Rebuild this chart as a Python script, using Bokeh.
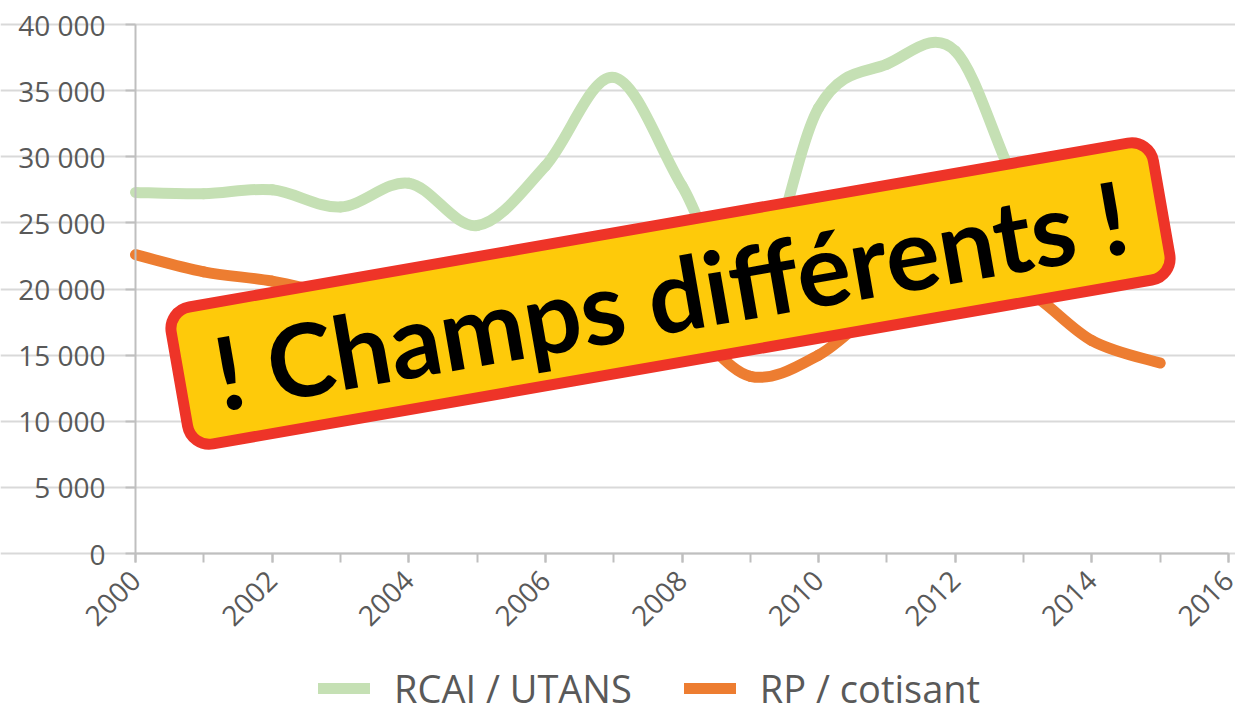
import math
from bokeh.plotting import figure
from bokeh.models import ColumnDataSource, FixedTicker, Legend, LegendItem, Range1d
from bokeh.core.properties import value
from bokeh.embed import file_html
from bokeh.resources import INLINE

# ---------------- data ----------------
years = [2000, 2001, 2002, 2003, 2004, 2005, 2006, 2007,
         2008, 2009, 2010, 2011, 2012, 2013, 2014, 2015]
rcai_utans = [27300, 27200, 27500, 26200, 28000, 24800, 29300, 36000,
              27800, 19000, 33700, 37000, 38000, 27000, 23500, 24000]
rp_cotisant = [22600, 21300, 20600, 19500, 18800, 18000, 17600, 17400,
               17300, 13400, 15000, 19000, 21000, 20000, 16100, 14400]
series_names = ["RCAI / UTANS", "RP / cotisant"]

y_ticks = [0, 5000, 10000, 15000, 20000, 25000, 30000, 35000, 40000]
y_tick_labels = ["0", "5 000", "10 000", "15 000", "20 000",
                 "25 000", "30 000", "35 000", "40 000"]
x_ticks = [2000, 2002, 2004, 2006, 2008, 2010, 2012, 2014, 2016]
x_minor_ticks = list(range(2000, 2017))

banner_text = "! Champs différents !"

# ---------------- styles ----------------
GREEN = "#C5E0B4"
ORANGE = "#ED7D31"
GRID = "#D9D9D9"
AXIS = "#BFBFBF"
LABEL = "#595959"
FONT = "Open Sans"

# ---------------- layout (pixels) ----------------
W, H = 1235, 715
LEFT, RIGHT, TOP, BOTTOM = 135, 1228, 24, 553   # plot area edges in page px
x0v, x1v = x_ticks[0], x_ticks[-1]
y0v, y1v = y_ticks[0], y_ticks[-1]
xpx = (RIGHT - LEFT) / (x1v - x0v)
ypx = (BOTTOM - TOP) / (y1v - y0v)
x_range = Range1d(x0v - LEFT / xpx, x1v + (W - RIGHT) / xpx)
y_range = Range1d(y0v - (H - BOTTOM) / ypx, y1v + TOP / ypx)


def smooth_segments(xs, ys):
    """Catmull-Rom smoothing expressed as cubic Bezier segments."""
    xp = [xs[0]] + list(xs) + [xs[-1]]
    yp = [ys[0]] + list(ys) + [ys[-1]]
    d = dict(x0=[], y0=[], x1=[], y1=[], cx0=[], cy0=[], cx1=[], cy1=[])
    for i in range(1, len(xs)):
        p0x, p0y = xp[i - 1], yp[i - 1]
        p1x, p1y = xp[i], yp[i]
        p2x, p2y = xp[i + 1], yp[i + 1]
        p3x, p3y = xp[i + 2], yp[i + 2]
        d["x0"].append(p1x); d["y0"].append(p1y)
        d["x1"].append(p2x); d["y1"].append(p2y)
        d["cx0"].append(p1x + (p2x - p0x) / 6.0)
        d["cy0"].append(p1y + (p2y - p0y) / 6.0)
        d["cx1"].append(p2x - (p3x - p1x) / 6.0)
        d["cy1"].append(p2y - (p3y - p1y) / 6.0)
    return ColumnDataSource(d)


p = figure(frame_width=W, frame_height=H, x_range=x_range, y_range=y_range,
           output_backend="svg", toolbar_location=None,
           min_border_left=0, min_border_right=0,
           min_border_top=0, min_border_bottom=0)
p.outline_line_color = None
p.background_fill_color = "white"
p.border_fill_color = "white"

p.xgrid.visible = False
p.ygrid.grid_line_color = GRID
p.ygrid.grid_line_width = 2
p.ygrid.bounds = (x0v, x1v)

# y axis, pinned at 2000
ya = p.yaxis[0]
ya.fixed_location = x0v
ya.ticker = FixedTicker(ticks=y_ticks)
ya.bounds = (y0v, y1v)
ya.major_label_overrides = {t: l for t, l in zip(y_ticks, y_tick_labels)}
ya.axis_line_color = AXIS
ya.axis_line_width = 2
ya.major_tick_line_color = AXIS
ya.major_tick_line_width = 2
ya.major_tick_in = 0
ya.major_tick_out = 10
ya.minor_tick_out = 0
ya.minor_tick_in = 0
ya.major_label_text_font = FONT
ya.major_label_text_font_size = "28px"
ya.major_label_text_color = LABEL
ya.major_label_standoff = 20

# x axis, pinned at 0
xa = p.xaxis[0]
xa.fixed_location = y0v
xa.bounds = (x0v, x1v)
xa.ticker = FixedTicker(ticks=x_ticks, minor_ticks=x_minor_ticks)
xa.axis_line_color = AXIS
xa.axis_line_width = 2
xa.major_tick_line_color = AXIS
xa.major_tick_line_width = 2
xa.minor_tick_line_color = AXIS
xa.minor_tick_line_width = 2
xa.major_tick_in = 0
xa.major_tick_out = 9
xa.minor_tick_in = 0
xa.minor_tick_out = 9
xa.major_label_orientation = math.pi / 4
xa.major_label_text_font = FONT
xa.major_label_text_font_size = "28px"
xa.major_label_text_color = LABEL
xa.major_label_standoff = 13

# series
r_green = p.bezier(x0="x0", y0="y0", x1="x1", y1="y1", cx0="cx0", cy0="cy0",
                   cx1="cx1", cy1="cy1", source=smooth_segments(years, rcai_utans),
                   line_color=GREEN, line_width=11, line_cap="round")
r_orange = p.bezier(x0="x0", y0="y0", x1="x1", y1="y1", cx0="cx0", cy0="cy0",
                    cx1="cx1", cy1="cy1", source=smooth_segments(years, rp_cotisant),
                    line_color=ORANGE, line_width=11, line_cap="round")

# banner (annotation placed in page pixels)
bx = x0v + (670 - LEFT) / xpx
by = y0v + (BOTTOM - 293) / ypx
angle = math.radians(9.9)
p.rect(x=[bx], y=[by], width=997, height=139, width_units="screen",
       height_units="screen", angle=angle, fill_color="#FECA0A",
       line_color="#EE3428", line_width=11, border_radius=22)
p.text(x=[bx], y=[by], text=[banner_text], angle=angle,
       text_align="center", text_baseline="middle",
       text_font=value("Lato"), text_font_style="bold",
       text_font_size="101px", text_color="black")

legend = Legend(items=[LegendItem(label=series_names[0], renderers=[r_green]),
                       LegendItem(label=series_names[1], renderers=[r_orange])],
                orientation="horizontal", location=(318, 1),
                label_text_font=FONT, label_text_font_size="38px",
                label_text_color=LABEL, glyph_width=52, glyph_height=30,
                label_standoff=24, spacing=52, padding=0, margin=0,
                border_line_color=None, background_fill_alpha=0)
p.add_layout(legend, "center")

open("out.html", "w").write(file_html(p, INLINE))
